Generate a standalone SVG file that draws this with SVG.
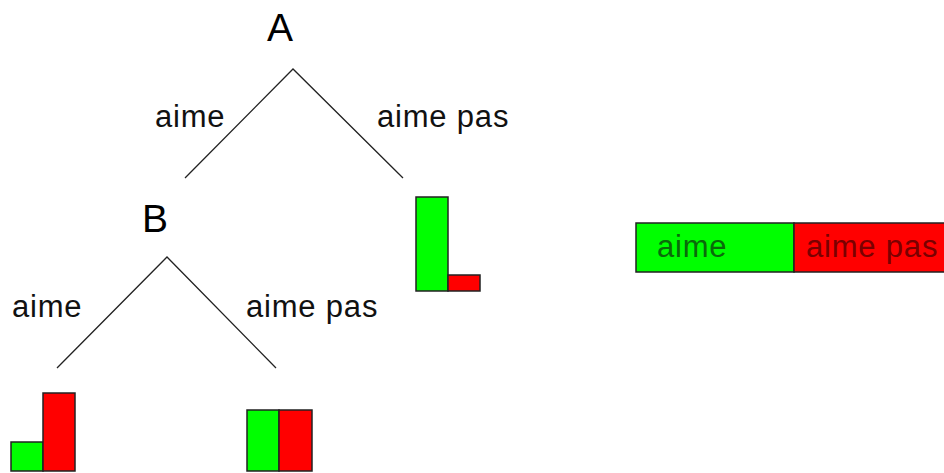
<svg xmlns="http://www.w3.org/2000/svg" width="944" height="473" viewBox="0 0 944 473">
<style>
.t{font-family:"Liberation Sans",Arial,sans-serif;font-size:31px;letter-spacing:0.8px;fill:#111}
.h{font-family:"Liberation Sans",Arial,sans-serif;font-size:39px;fill:#000;text-anchor:middle}
.e{stroke:#222;stroke-width:1.3;fill:none}
.g{fill:#00ff00;stroke:#222;stroke-width:1.5}
.r{fill:#ff0000;stroke:#222;stroke-width:1.5}
</style>
<rect width="944" height="473" fill="#fff"/>
<g id="connectors">
<polyline class="e" points="185,178 293,69 403,178"/>
<polyline class="e" points="57,368 167,257 276,368"/>
<text class="t" x="155" y="127">aime</text>
<text class="t" x="377" y="127">aime pas</text>
<text class="t" x="12" y="317">aime</text>
<text class="t" x="246" y="317">aime pas</text>
</g>
<g id="nodeA"><text class="h" x="280" y="41">A</text></g>
<g id="nodeB"><text class="h" x="155" y="232">B</text></g>
<g id="leafA">
<rect class="g" x="416" y="197" width="32" height="94"/>
<rect class="r" x="448" y="275" width="32" height="16"/>
</g>
<g id="leafB1">
<rect class="g" x="11" y="442" width="32" height="29"/>
<rect class="r" x="43" y="393" width="32" height="78"/>
</g>
<g id="leafB2">
<rect class="g" x="247" y="410" width="32" height="61"/>
<rect class="r" x="279" y="410" width="33" height="61"/>
</g>
<g id="legend">
<rect class="g" x="636" y="223" width="158" height="49"/>
<rect class="r" x="794" y="223" width="160" height="49"/>
<text class="t" x="657" y="257" style="fill:#0a6a0a">aime</text>
<text class="t" x="806" y="257" style="fill:#7a0000">aime pas</text>
</g>
</svg>
